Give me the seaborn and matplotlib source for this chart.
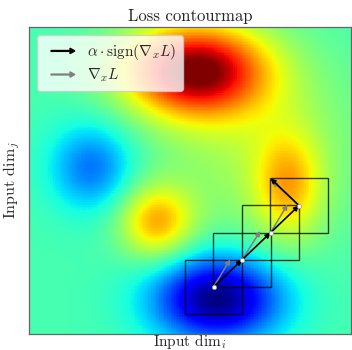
import numpy as np
import pandas as pd
import seaborn as sns
from matplotlib import pyplot as plt
import matplotlib.patches as mpatches
from matplotlib.legend_handler import HandlerPatch

# loss surface: base level plus gaussian bumps (unit square, y up)
BASE = 0.435
bump_x = [0.516, 0.196, 0.397, 0.585, 0.805, 0.72]
bump_y = [0.859, 0.544, 0.365, 0.115, 0.480, 0.62]
bump_sx = [0.155, 0.092, 0.080, 0.140, 0.072, 0.22]
bump_sy = [0.105, 0.100, 0.085, 0.100, 0.120, 0.22]
bump_amp = [0.56, -0.20, 0.28, -0.44, 0.22, 0.12]

# attack path (start point + sign steps) and raw gradient arrows
path_x = [0.573, 0.6615, 0.750, 0.8385, 0.750]
path_y = [0.153, 0.2415, 0.330, 0.4185, 0.507]
grad_dx = [0.052, 0.057, 0.053, -0.083]
grad_dy = [0.090, 0.094, 0.092, 0.079]
ALPHA = 0.0888

N = 200


def loss_grid():
    c = (np.arange(N) + 0.5) / N
    xx, yy = np.meshgrid(c, c)
    z = np.full_like(xx, BASE)
    for cx, cy, sx, sy, a in zip(bump_x, bump_y, bump_sx, bump_sy, bump_amp):
        z += a * np.exp(-((xx - cx) ** 2 / (2 * sx ** 2) + (yy - cy) ** 2 / (2 * sy ** 2)))
    return pd.DataFrame(z)


def make_legend_arrow(legend, orig_handle, xdescent, ydescent, width, height, fontsize):
    x0 = 0.22 * width
    return mpatches.FancyArrow(x0, 0.5 * height, width - x0, 0, length_includes_head=True,
                               head_width=0.5 * height, head_length=0.45 * height, width=0.08 * height)


def arrow(ax, x0, y0, x1, y1, color, lw):
    ax.annotate("", xy=(x1 * N, y1 * N), xytext=(x0 * N, y0 * N),
                arrowprops=dict(arrowstyle="-|>", color=color, lw=lw, shrinkA=0, shrinkB=0,
                                mutation_scale=7))


sns.set_theme(style="white")
plt.rcParams['font.family'] = ['cmr10', 'DejaVu Serif']
plt.rcParams['mathtext.fontset'] = 'cm'
plt.rcParams['axes.formatter.use_mathtext'] = True

fig = plt.figure(figsize=(3.52, 3.5), dpi=100)
ax = fig.add_axes([29 / 352, 16 / 350, 322 / 352, 307 / 350])
sns.heatmap(loss_grid(), cmap="jet", vmin=0, vmax=1, cbar=False,
            xticklabels=False, yticklabels=False, ax=ax, rasterized=True)
ax.set_xlim(0, N)
ax.set_ylim(0, N)
for s in ax.spines.values():
    s.set_visible(True)
    s.set_color("#666666")
    s.set_linewidth(0.9)

for px, py in zip(path_x[:-1], path_y[:-1]):
    ax.add_patch(mpatches.Rectangle(((px - ALPHA) * N, (py - ALPHA) * N), 2 * ALPHA * N, 2 * ALPHA * N,
                                    fill=False, edgecolor="black", lw=1.0, alpha=0.75))

for i in range(len(grad_dx)):
    arrow(ax, path_x[i], path_y[i], path_x[i] + grad_dx[i], path_y[i] + grad_dy[i], "#808080", 1.1)
for i in range(len(path_x) - 1):
    arrow(ax, path_x[i], path_y[i], path_x[i + 1], path_y[i + 1], "black", 1.2)

ax.scatter(np.array(path_x[:-1]) * N, np.array(path_y[:-1]) * N, s=9, c="white",
           edgecolors="#999999", linewidths=0.5, zorder=5)

h_sign = mpatches.FancyArrow(0, 0, 1, 0, color="black")
h_grad = mpatches.FancyArrow(0, 0, 1, 0, color="#808080")
leg = ax.legend([h_sign, h_grad], [r"$\alpha \cdot \mathrm{sign}(\nabla_x L)$", r"$\nabla_x L$"],
                handler_map={mpatches.FancyArrow: HandlerPatch(patch_func=make_legend_arrow)},
                loc="upper left", fontsize=11, handlelength=2.0, labelspacing=0.3,
                frameon=True, fancybox=True, framealpha=0.8, borderaxespad=0.55, borderpad=0.45)
leg.get_frame().set_edgecolor("#cccccc")

ax.set_title("Loss contourmap", fontsize=12, pad=4)
ax.set_xlabel(r"Input dim$_i$", fontsize=11, labelpad=-1.5)
ax.set_ylabel(r"Input dim$_j$", fontsize=11.5, labelpad=5)

fig.savefig("out.png", dpi=100)
